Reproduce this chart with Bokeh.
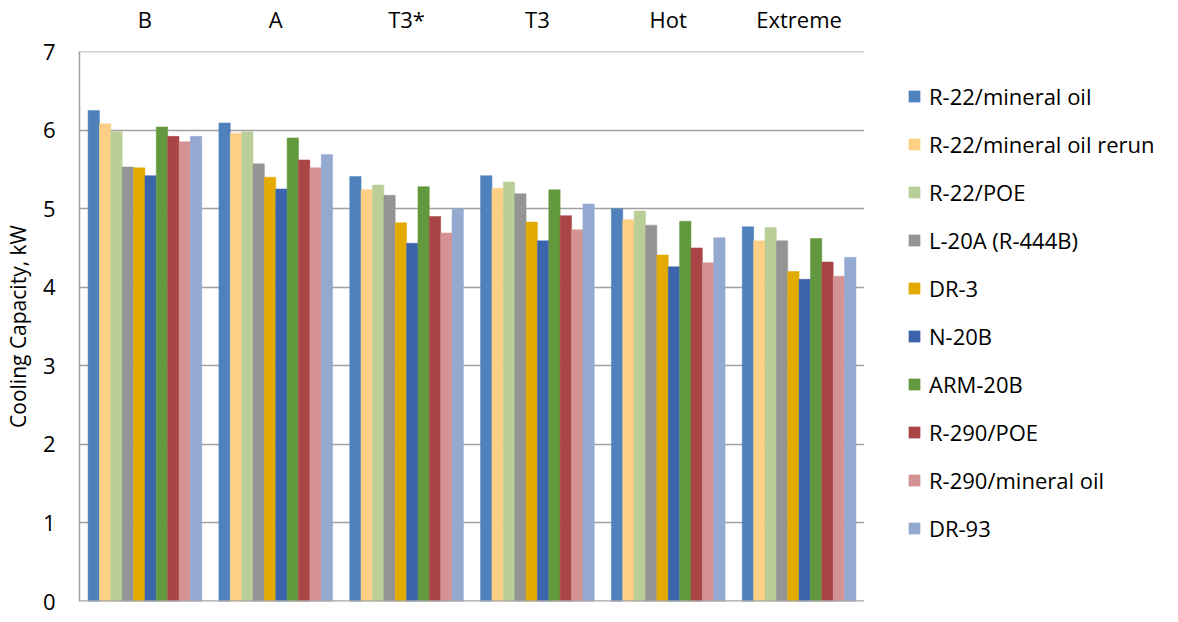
from bokeh.plotting import figure
from bokeh.models import FactorRange, Legend, LegendItem, Span, ColumnDataSource
from bokeh.transform import dodge
from bokeh.embed import file_html
from bokeh.resources import INLINE

categories = ["B", "A", "T3*", "T3", "Hot", "Extreme"]
series_names = ["R-22/mineral oil", "R-22/mineral oil rerun", "R-22/POE", "L-20A (R-444B)",
                "DR-3", "N-20B", "ARM-20B", "R-290/POE", "R-290/mineral oil", "DR-93"]
r22_mineral = [6.25, 6.09, 5.41, 5.42, 5.00, 4.77]
r22_mineral_rerun = [6.08, 5.96, 5.24, 5.26, 4.86, 4.59]
r22_poe = [5.98, 5.98, 5.30, 5.34, 4.97, 4.76]
l20a = [5.53, 5.57, 5.17, 5.19, 4.79, 4.59]
dr3 = [5.52, 5.40, 4.82, 4.83, 4.41, 4.20]
n20b = [5.42, 5.25, 4.56, 4.59, 4.26, 4.10]
arm20b = [6.04, 5.90, 5.28, 5.24, 4.84, 4.62]
r290_poe = [5.92, 5.62, 4.90, 4.91, 4.50, 4.32]
r290_mineral = [5.85, 5.52, 4.69, 4.73, 4.31, 4.14]
dr93 = [5.92, 5.69, 5.00, 5.06, 4.63, 4.38]
series_values = [r22_mineral, r22_mineral_rerun, r22_poe, l20a, dr3, n20b,
                 arm20b, r290_poe, r290_mineral, dr93]
colors = ["#4F81BD", "#FDD086", "#BACF97", "#949494", "#E3AA00",
          "#3B64AD", "#63993E", "#A94545", "#D49292", "#94A9D0"]
y_ticks = [0, 1, 2, 3, 4, 5, 6, 7]

FONT = "Open Sans"
FS = "22px"
LFS = "22px"

data = {"cat": categories}
for i, vals in enumerate(series_values):
    data[f"s{i}"] = vals
source = ColumnDataSource(data)

p = figure(x_range=FactorRange(factors=categories), y_range=(0, 7),
           x_axis_location="above",
           frame_width=785, frame_height=550,
           min_border_left=72, min_border_top=42, min_border_bottom=14, min_border_right=0,
           output_backend="svg", toolbar_location=None)
p.outline_line_color = None
p.background_fill_color = "white"

bw = 0.0869
items = []
for j, (name, col) in enumerate(zip(series_names, colors)):
    r = p.vbar(x=dodge("cat", (j - 4.5) * bw, range=p.x_range), top=f"s{j}", width=bw,
               bottom=0, source=source, fill_color=col, line_color=col, line_width=0.5)
    items.append(LegendItem(label=name, renderers=[r]))

# axes
p.xaxis.axis_line_color = None
p.xaxis.major_tick_line_color = None
p.xaxis.minor_tick_line_color = None
p.xaxis.major_label_text_font = FONT
p.xaxis.major_label_text_font_size = FS
p.xaxis.major_label_text_color = "#000000"
p.xaxis.major_label_standoff = 12
p.xgrid.grid_line_color = None

p.yaxis.ticker = y_ticks
p.yaxis.axis_line_color = "#A0A0A0"
p.yaxis.axis_line_width = 1.5
p.yaxis.major_tick_line_color = None
p.yaxis.minor_tick_line_color = None
p.yaxis.major_label_text_font = FONT
p.yaxis.major_label_text_font_size = FS
p.yaxis.major_label_text_color = "#000000"
p.yaxis.major_label_standoff = 18
p.yaxis.axis_label = "Cooling Capacity, kW"
p.yaxis.axis_label_text_font = FONT
p.yaxis.axis_label_text_font_size = "21px"
p.yaxis.axis_label_text_font_style = "normal"
p.yaxis.axis_label_text_color = "#000000"
p.yaxis.axis_label_standoff = 8

p.ygrid.ticker = y_ticks
p.ygrid.grid_line_color = "#A0A0A0"
p.ygrid.grid_line_width = 1.5

p.add_layout(Span(location=y_ticks[0], dimension="width", line_color="#A6A6A6", line_width=2.5))
p.add_layout(Span(location=y_ticks[-1], dimension="width", line_color="#A0A0A0", line_width=1.5))

legend = Legend(items=items, location=(43, 58), orientation="vertical")
legend.border_line_color = None
legend.background_fill_alpha = 0
legend.padding = 0
legend.margin = 0
legend.glyph_width = 14
legend.glyph_height = 14
legend.label_height = 30
legend.spacing = 18
legend.label_standoff = 8
legend.label_text_font = FONT
legend.label_text_font_size = LFS
legend.label_text_color = "#000000"
p.add_layout(legend, "right")

open("out.html", "w").write(file_html(p, INLINE))
